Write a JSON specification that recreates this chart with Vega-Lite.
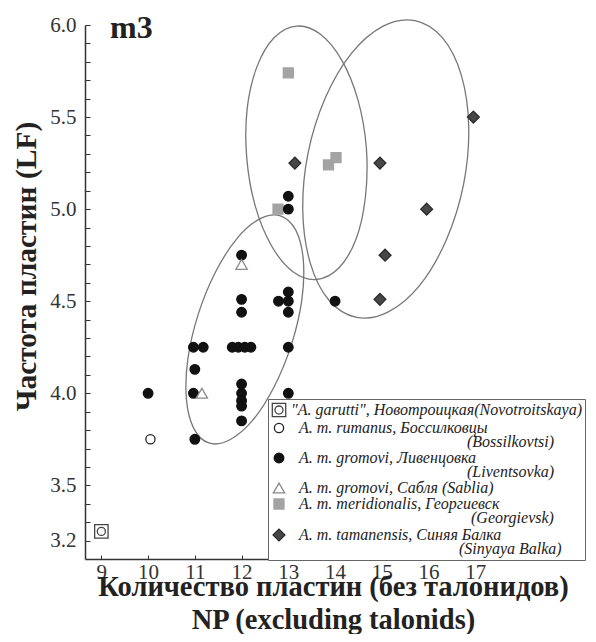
{
  "$schema": "https://vega.github.io/schema/vega-lite/v6.json",
  "width": 437,
  "height": 534,
  "padding": {"left": 11, "top": 12, "right": 0, "bottom": 0},
  "background": "white",
  "title": {"text": "m3", "anchor": "start", "frame": "group", "offset": -56, "dx": 25, "font": "Liberation Serif", "fontSize": 32, "fontWeight": "bold", "color": "#222", "baseline": "alphabetic"},
  "datasets": {
    "pts": [
      {"sp": "A. m. meridionalis, Георгиевск", "np": 13.0, "lf": 5.74},
      {"sp": "A. m. meridionalis, Георгиевск", "np": 12.78, "lf": 5.0},
      {"sp": "A. m. meridionalis, Георгиевск", "np": 13.86, "lf": 5.24},
      {"sp": "A. m. meridionalis, Георгиевск", "np": 14.02, "lf": 5.28},
      {"sp": "A. m. gromovi, Ливенцовка", "np": 10.0, "lf": 4.0},
      {"sp": "A. m. gromovi, Ливенцовка", "np": 10.97, "lf": 4.25},
      {"sp": "A. m. gromovi, Ливенцовка", "np": 11.18, "lf": 4.25},
      {"sp": "A. m. gromovi, Ливенцовка", "np": 11.0, "lf": 4.13},
      {"sp": "A. m. gromovi, Ливенцовка", "np": 10.97, "lf": 4.0},
      {"sp": "A. m. gromovi, Ливенцовка", "np": 11.0, "lf": 3.75},
      {"sp": "A. m. gromovi, Ливенцовка", "np": 12.0, "lf": 4.75},
      {"sp": "A. m. gromovi, Ливенцовка", "np": 12.0, "lf": 4.51},
      {"sp": "A. m. gromovi, Ливенцовка", "np": 12.0, "lf": 4.44},
      {"sp": "A. m. gromovi, Ливенцовка", "np": 11.8, "lf": 4.25},
      {"sp": "A. m. gromovi, Ливенцовка", "np": 11.93, "lf": 4.25},
      {"sp": "A. m. gromovi, Ливенцовка", "np": 12.07, "lf": 4.25},
      {"sp": "A. m. gromovi, Ливенцовка", "np": 12.2, "lf": 4.25},
      {"sp": "A. m. gromovi, Ливенцовка", "np": 12.0, "lf": 4.05},
      {"sp": "A. m. gromovi, Ливенцовка", "np": 12.0, "lf": 4.0},
      {"sp": "A. m. gromovi, Ливенцовка", "np": 12.0, "lf": 3.96},
      {"sp": "A. m. gromovi, Ливенцовка", "np": 12.0, "lf": 3.93},
      {"sp": "A. m. gromovi, Ливенцовка", "np": 12.0, "lf": 3.85},
      {"sp": "A. m. gromovi, Ливенцовка", "np": 13.0, "lf": 4.55},
      {"sp": "A. m. gromovi, Ливенцовка", "np": 13.0, "lf": 4.5},
      {"sp": "A. m. gromovi, Ливенцовка", "np": 13.0, "lf": 4.44},
      {"sp": "A. m. gromovi, Ливенцовка", "np": 12.79, "lf": 4.5},
      {"sp": "A. m. gromovi, Ливенцовка", "np": 13.0, "lf": 4.25},
      {"sp": "A. m. gromovi, Ливенцовка", "np": 13.0, "lf": 4.0},
      {"sp": "A. m. gromovi, Ливенцовка", "np": 13.0, "lf": 5.07},
      {"sp": "A. m. gromovi, Ливенцовка", "np": 13.0, "lf": 5.0},
      {"sp": "A. m. gromovi, Ливенцовка", "np": 14.0, "lf": 4.5},
      {"sp": "A. m. gromovi, Сабля (Sablia)", "np": 12.0, "lf": 4.7},
      {"sp": "A. m. gromovi, Сабля (Sablia)", "np": 11.15, "lf": 4.0},
      {"sp": "A. m. rumanus, Боссилковцы", "np": 10.05, "lf": 3.75},
      {"sp": "\"A. garutti\", Новотроицкая(Novotroitskaya)", "np": 9.0, "lf": 3.25},
      {"sp": "A. m. tamanensis, Синяя Балка", "np": 13.14, "lf": 5.25},
      {"sp": "A. m. tamanensis, Синяя Балка", "np": 14.96, "lf": 5.25},
      {"sp": "A. m. tamanensis, Синяя Балка", "np": 15.96, "lf": 5.0},
      {"sp": "A. m. tamanensis, Синяя Балка", "np": 15.07, "lf": 4.75},
      {"sp": "A. m. tamanensis, Синяя Балка", "np": 14.96, "lf": 4.51},
      {"sp": "A. m. tamanensis, Синяя Балка", "np": 16.96, "lf": 5.5}
    ],
    "ell": [
      {"e": "A", "i": 1, "np": 12.83, "lf": 4.964},
      {"e": "A", "i": 2, "np": 13.16, "lf": 4.886},
      {"e": "A", "i": 3, "np": 13.32, "lf": 4.726},
      {"e": "A", "i": 4, "np": 13.29, "lf": 4.509},
      {"e": "A", "i": 5, "np": 13.07, "lf": 4.267},
      {"e": "A", "i": 6, "np": 12.70, "lf": 4.037},
      {"e": "A", "i": 7, "np": 12.24, "lf": 3.854},
      {"e": "A", "i": 8, "np": 11.74, "lf": 3.746},
      {"e": "A", "i": 9, "np": 11.30, "lf": 3.730},
      {"e": "A", "i": 10, "np": 10.98, "lf": 3.808},
      {"e": "A", "i": 11, "np": 10.82, "lf": 3.967},
      {"e": "A", "i": 12, "np": 10.85, "lf": 4.185},
      {"e": "A", "i": 13, "np": 11.07, "lf": 4.427},
      {"e": "A", "i": 14, "np": 11.44, "lf": 4.657},
      {"e": "A", "i": 15, "np": 11.90, "lf": 4.840},
      {"e": "A", "i": 16, "np": 12.39, "lf": 4.947},
      {"e": "B", "i": 1, "np": 13.18, "lf": 5.994},
      {"e": "B", "i": 2, "np": 13.68, "lf": 5.951},
      {"e": "B", "i": 3, "np": 14.14, "lf": 5.811},
      {"e": "B", "i": 4, "np": 14.49, "lf": 5.593},
      {"e": "B", "i": 5, "np": 14.67, "lf": 5.332},
      {"e": "B", "i": 6, "np": 14.65, "lf": 5.066},
      {"e": "B", "i": 7, "np": 14.45, "lf": 4.838},
      {"e": "B", "i": 8, "np": 14.08, "lf": 4.680},
      {"e": "B", "i": 9, "np": 13.60, "lf": 4.618},
      {"e": "B", "i": 10, "np": 13.10, "lf": 4.660},
      {"e": "B", "i": 11, "np": 12.64, "lf": 4.801},
      {"e": "B", "i": 12, "np": 12.29, "lf": 5.019},
      {"e": "B", "i": 13, "np": 12.11, "lf": 5.280},
      {"e": "B", "i": 14, "np": 12.12, "lf": 5.546},
      {"e": "B", "i": 15, "np": 12.33, "lf": 5.774},
      {"e": "B", "i": 16, "np": 12.70, "lf": 5.932},
      {"e": "C", "i": 1, "np": 15.71, "lf": 6.024},
      {"e": "C", "i": 2, "np": 16.30, "lf": 5.930},
      {"e": "C", "i": 3, "np": 16.70, "lf": 5.729},
      {"e": "C", "i": 4, "np": 16.86, "lf": 5.449},
      {"e": "C", "i": 5, "np": 16.75, "lf": 5.135},
      {"e": "C", "i": 6, "np": 16.38, "lf": 4.833},
      {"e": "C", "i": 7, "np": 15.82, "lf": 4.589},
      {"e": "C", "i": 8, "np": 15.14, "lf": 4.442},
      {"e": "C", "i": 9, "np": 14.46, "lf": 4.412},
      {"e": "C", "i": 10, "np": 13.87, "lf": 4.505},
      {"e": "C", "i": 11, "np": 13.47, "lf": 4.707},
      {"e": "C", "i": 12, "np": 13.31, "lf": 4.987},
      {"e": "C", "i": 13, "np": 13.42, "lf": 5.301},
      {"e": "C", "i": 14, "np": 13.79, "lf": 5.603},
      {"e": "C", "i": 15, "np": 14.35, "lf": 5.846},
      {"e": "C", "i": 16, "np": 15.03, "lf": 5.994}
    ]
  },
  "encoding": {
    "x": {
      "field": "np", "type": "quantitative",
      "scale": {"domain": [8.65, 18], "nice": false, "zero": false},
      "axis": {
        "title": ["Количество пластин (без талонидов)", "NP (excluding talonids)"],
        "values": [9, 10, 11, 12, 13, 14, 15, 16, 17],
        "format": "d",
        "tickSize": -4,
        "labelPadding": 6,
        "labelFont": "Liberation Serif", "labelFontSize": 21, "labelColor": "#333",
        "titleFont": "Liberation Serif", "titleFontSize": 28.5, "titleFontWeight": "bold", "titleColor": "#222",
        "titleLineHeight": 33,
        "titleX": 248, "titleY": 36, "titleAlign": "center", "titleBaseline": "alphabetic"
      }
    },
    "y": {
      "field": "lf", "type": "quantitative",
      "scale": {"domain": [3.1, 6.0], "nice": false, "zero": false},
      "axis": {
        "title": "Частота пластин (LF)",
        "values": [3.2, 3.3, 3.4, 3.5, 3.6, 3.7, 3.8, 3.9, 4.0, 4.1, 4.2, 4.3, 4.4, 4.5, 4.6, 4.7, 4.8, 4.9, 5.0, 5.1, 5.2, 5.3, 5.4, 5.5, 5.6, 5.7, 5.8, 5.9, 6.0],
        "labelExpr": "indexof([32, 35, 40, 45, 50, 55, 60], round(datum.value * 10)) >= 0 ? format(datum.value, '.1f') : ''",
        "labelOverlap": false,
        "tickSize": -5,
        "labelPadding": 14,
        "labelFont": "Liberation Serif", "labelFontSize": 21, "labelColor": "#333",
        "titleFont": "Liberation Serif", "titleFontSize": 29.5, "titleFontWeight": "bold", "titleColor": "#222",
        "titleX": -59, "titleY": 241, "titleBaseline": "middle", "titleAlign": "center"
      }
    }
  },
  "layer": [
    {
      "data": {"name": "ell"},
      "mark": {"type": "line", "interpolate": "cardinal-closed", "color": "#777777", "strokeWidth": 1.3},
      "encoding": {
        "detail": {"field": "e"},
        "order": {"field": "i", "type": "quantitative"}
      }
    },
    {
      "data": {"name": "pts"},
      "mark": {"type": "point", "opacity": 1, "fillOpacity": 1, "strokeWidth": 1.3},
      "encoding": {
        "shape": {
          "field": "sp", "type": "nominal",
          "scale": {
            "domain": ["\"A. garutti\", Новотроицкая(Novotroitskaya)", "A. m. rumanus, Боссилковцы", "A. m. gromovi, Ливенцовка", "A. m. gromovi, Сабля (Sablia)", "A. m. meridionalis, Георгиевск", "A. m. tamanensis, Синяя Балка"],
            "range": ["M-1,-1H1V1H-1Z M0.6,0A0.6,0.6 0 1,1 -0.6,0A0.6,0.6 0 1,1 0.6,0Z", "circle", "circle", "triangle-up", "square", "diamond"]
          },
          "legend": {
            "title": null,
            "rowPadding": 0,
            "labelExpr": "datum.label == 'A. m. rumanus, Боссилковцы' ? ['\u200b\u00a0\u00a0' + datum.label, '\u200b' + pad('', 44, '\u00a0') + '(Bossilkovtsi)'] : datum.label == 'A. m. gromovi, Ливенцовка' ? ['\u200b\u00a0\u00a0' + datum.label, '\u200b' + pad('', 44, '\u00a0') + '(Liventsovka)'] : datum.label == 'A. m. meridionalis, Георгиевск' ? ['\u200b\u00a0\u00a0' + datum.label, '\u200b' + pad('', 45, '\u00a0') + '(Georgievsk)'] : datum.label == 'A. m. tamanensis, Синяя Балка' ? ['\u200b\u00a0\u00a0' + datum.label, '\u200b' + pad('', 42, '\u00a0') + '(Sinyaya Balka)'] : datum.label == 'A. m. gromovi, Сабля (Sablia)' ? '\u200b\u00a0\u00a0' + datum.label : datum.label"
          }
        },
        "fill": {
          "field": "sp", "type": "nominal",
          "scale": {
            "domain": ["\"A. garutti\", Новотроицкая(Novotroitskaya)", "A. m. rumanus, Боссилковцы", "A. m. gromovi, Ливенцовка", "A. m. gromovi, Сабля (Sablia)", "A. m. meridionalis, Георгиевск", "A. m. tamanensis, Синяя Балка"],
            "range": ["white", "white", "#111111", "white", "#a3a3a3", "#474747"]
          },
          "legend": {"title": null}
        },
        "stroke": {
          "field": "sp", "type": "nominal",
          "scale": {
            "domain": ["\"A. garutti\", Новотроицкая(Novotroitskaya)", "A. m. rumanus, Боссилковцы", "A. m. gromovi, Ливенцовка", "A. m. gromovi, Сабля (Sablia)", "A. m. meridionalis, Георгиевск", "A. m. tamanensis, Синяя Балка"],
            "range": ["#444444", "#222222", "#111111", "#8a8a8a", "#a3a3a3", "#2a2a2a"]
          },
          "legend": {"title": null}
        },
        "size": {
          "field": "sp", "type": "nominal",
          "scale": {
            "type": "ordinal",
            "domain": ["\"A. garutti\", Новотроицкая(Novotroitskaya)", "A. m. rumanus, Боссилковцы", "A. m. gromovi, Ливенцовка", "A. m. gromovi, Сабля (Sablia)", "A. m. meridionalis, Георгиевск", "A. m. tamanensis, Синяя Балка"],
            "range": [180, 85, 92, 130, 100, 140]
          },
          "legend": {"title": null}
        }
      }
    }
  ],
  "config": {
    "view": {"stroke": null},
    "style": {"guide-label": {"lineHeight": 13.5}},
    "axis": {"domainColor": "#333", "domainWidth": 1.5, "tickColor": "#333", "tickWidth": 1, "grid": false},
    "legend": {
      "orient": "none", "legendX": 183, "legendY": 374,
      "padding": 3, "strokeColor": "#666", "fillColor": "white",
      "labelFont": "Liberation Serif", "labelFontStyle": "italic", "labelFontSize": 16, "labelColor": "#222",
      "labelLimit": 400, "labelOffset": 4, "symbolStrokeWidth": 1.3
    }
  }
}
